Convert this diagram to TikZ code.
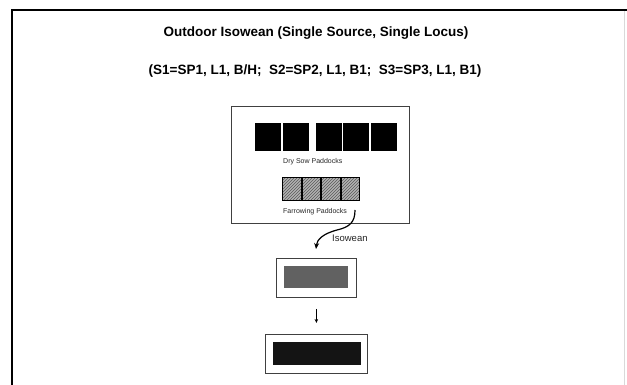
\documentclass[tikz,border=0pt]{standalone}
\usepackage{fontspec}
\setmainfont{Liberation Sans}
\usetikzlibrary{arrows.meta,patterns}
\begin{document}
\begin{tikzpicture}[x=1pt,y=-1pt,
  box/.style={draw=black!75, line width=0.8pt, fill=white, inner sep=0pt, anchor=north west},
  blk/.style={fill=black, draw=none, inner sep=0pt, anchor=north west, minimum width=26pt, minimum height=28pt},
  hcell/.style={draw=black, line width=0.7pt, preaction={fill=black!30}, pattern=north east lines, pattern color=black!65, inner sep=0pt, anchor=north west, minimum width=18.5pt, minimum height=23pt},
  small/.style={font=\fontsize{7}{8}\selectfont, text=black!85, inner sep=0pt, anchor=west},
  ttl/.style={font=\bfseries\fontsize{13.5}{16}\selectfont, inner sep=0pt},
  fill box/.style={draw=none, inner sep=0pt, anchor=north west}]
\useasboundingbox (0,0) rectangle (627,385);
\fill[white] (0,0) rectangle (627,385);
% frame
\draw[black!15, line width=1pt] (624,10) -- (624,385);
\draw[line width=2.5pt] (12,385) -- (12,10) -- (627,10);
% titles
\node[ttl] (t1) at (316,33) {Outdoor Isowean (Single Source, Single Locus)};
\node[ttl] (t2) at (315,71) {(S1=SP1, L1, B/H;\ \ S2=SP2, L1, B1;\ \ S3=SP3, L1, B1)};
% paddock box
\node[box, minimum width=178pt, minimum height=117pt] (pbox) at (231,106) {};
\node[blk] (d1) at (255,123) {};
\node[blk] (d2) at (283,123) {};
\node[blk] (d3) at (316,123) {};
\node[blk] (d4) at (343,123) {};
\node[blk] (d5) at (371,123) {};
\node[small] (dry) at (283,162) {Dry Sow Paddocks};
\node[hcell] (f1) at (282,177) {};
\node[hcell] (f2) at (301.5,177) {};
\node[hcell] (f3) at (321,177) {};
\node[hcell] (f4) at (340.5,177) {};
\node[small] (far) at (283,212) {Farrowing Paddocks};
\coordinate (fstart) at (355,210);
% middle box
\node[box, minimum width=80pt, minimum height=39pt] (mbox) at (276,258) {};
\node[fill box, fill=black!62, minimum width=64pt, minimum height=22pt] (minner) at (284,266) {};
\coordinate (isoend) at (316,249);
\draw[line width=1.2pt, -{Stealth[length=6pt,width=5pt]}] (fstart) .. controls (355,222) and (350,227) .. (337,230) .. controls (322,234) and (317,240) .. (isoend);
\node[inner sep=0pt, anchor=west, font=\fontsize{9.5}{11}\selectfont, text=black!85] (iso) at (332,238) {Isowean};
% bottom box
\node[box, minimum width=102pt, minimum height=39pt] (bbox) at (265,334) {};
\node[fill box, fill=black!92, minimum width=88pt, minimum height=23pt] (binner) at (273,342) {};
\draw[line width=0.8pt, -{Stealth[length=4pt,width=3.5pt]}, shorten <=11pt, shorten >=11pt] (mbox.south) -- (bbox.north);
\end{tikzpicture}
\end{document}
